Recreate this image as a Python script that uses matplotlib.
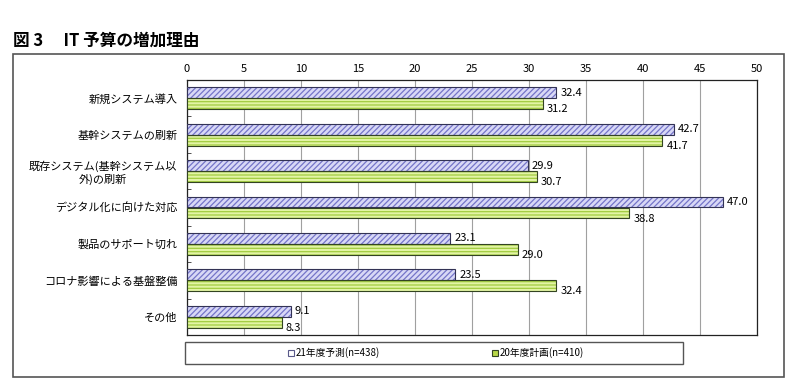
import matplotlib
matplotlib.use("Agg")
import matplotlib.pyplot as plt
from matplotlib.patches import Rectangle, Patch
import numpy as np

plt.rcParams['font.family'] = ['Noto Sans CJK JP', 'DejaVu Sans']

title = "図 3　 IT 予算の増加理由"
categories = ["新規システム導入", "基幹システムの刷新", "既存システム(基幹システム以\n外)の刷新",
              "デジタル化に向けた対応", "製品のサポート切れ", "コロナ影響による基盤整備", "その他"]
series_names = ["21年度予測(n=438)", "20年度計画(n=410)"]
v21 = [32.4, 42.7, 29.9, 47.0, 23.1, 23.5, 9.1]
v20 = [31.2, 41.7, 30.7, 38.8, 29.0, 32.4, 8.3]
xticks = [0, 5, 10, 15, 20, 25, 30, 35, 40, 45, 50]

W, H = 800, 379
fig = plt.figure(figsize=(W/100, H/100), dpi=100)

# outer frame
fig.patches.append(Rectangle((13/W, 1-377/H), (784-13)/W, (377-54)/H, transform=fig.transFigure,
                             fill=False, edgecolor='#555555', linewidth=1.2))
fig.text(13/W, 1-41/H, title, fontsize=12, fontweight='bold', va='center', ha='left')

ax = fig.add_axes([187/W, 1-335/H, (757-187)/W, (335-80)/H])
y = np.arange(len(categories))
h = 0.30
blue_face, blue_hatch = '#d8d8f6', '#7474c8'
green_face, green_hatch = '#e2f4a4', '#a2cc40'
edge = '#333355'

plt.rcParams['hatch.linewidth'] = 0.9
ax.barh(y - h/2, v21, height=h, color=blue_face, edgecolor=blue_hatch, hatch='//////', linewidth=0, zorder=3)
ax.barh(y - h/2, v21, height=h, fill=False, edgecolor=edge, linewidth=0.8, zorder=4)
ax.barh(y + h/2, v20, height=h, color=green_face, edgecolor=green_hatch, hatch='-----', linewidth=0, zorder=3)
ax.barh(y + h/2, v20, height=h, fill=False, edgecolor='#334422', linewidth=0.8, zorder=4)

for yi, v in zip(y, v21):
    ax.annotate(f"{v:.1f}", (v, yi - h/2), xytext=(3, 0), textcoords='offset points',
                va='center', ha='left', fontsize=8)
for yi, v in zip(y, v20):
    ax.annotate(f"{v:.1f}", (v, yi + h/2), xytext=(3, -4), textcoords='offset points',
                va='center', ha='left', fontsize=8)

ax.set_xlim(0, 50)
ax.set_ylim(len(categories) - 0.5, -0.5)
ax.set_xticks(xticks)
ax.xaxis.tick_top()
ax.tick_params(axis='x', length=0, labelsize=8, pad=4)
ax.set_yticks(y)
ax.set_yticklabels(categories, fontsize=8, multialignment='center')
ax.set_yticks(np.arange(0.5, len(categories) - 0.5, 1), minor=True)
ax.tick_params(axis='y', which='major', length=0, pad=7)
ax.tick_params(axis='y', which='minor', length=3, direction='in', color='#333333')
ax.grid(axis='x', color='#a0a0a0', linewidth=0.8, zorder=0)
ax.set_axisbelow(True)
for s in ax.spines.values():
    s.set_color('#222222')
    s.set_linewidth(0.9)

# legend frame
fig.patches.append(Rectangle((185/W, 1-364/H), (683-185)/W, (364-342)/H, transform=fig.transFigure,
                             fill=False, edgecolor='#555555', linewidth=1.0))
handles = [Patch(facecolor='#ffffff', edgecolor='#5a5a8a', linewidth=0.8),
           Patch(facecolor='#b8d848', edgecolor='#334422', linewidth=0.8)]
fig.legend(handles, series_names, loc='center', bbox_to_anchor=(436/W, 1-353/H), ncol=2,
           frameon=False, fontsize=7, handlelength=0.6, handleheight=0.6, handletextpad=0.2,
           columnspacing=11.5, borderpad=0)

fig.savefig("out.png", dpi=100)
